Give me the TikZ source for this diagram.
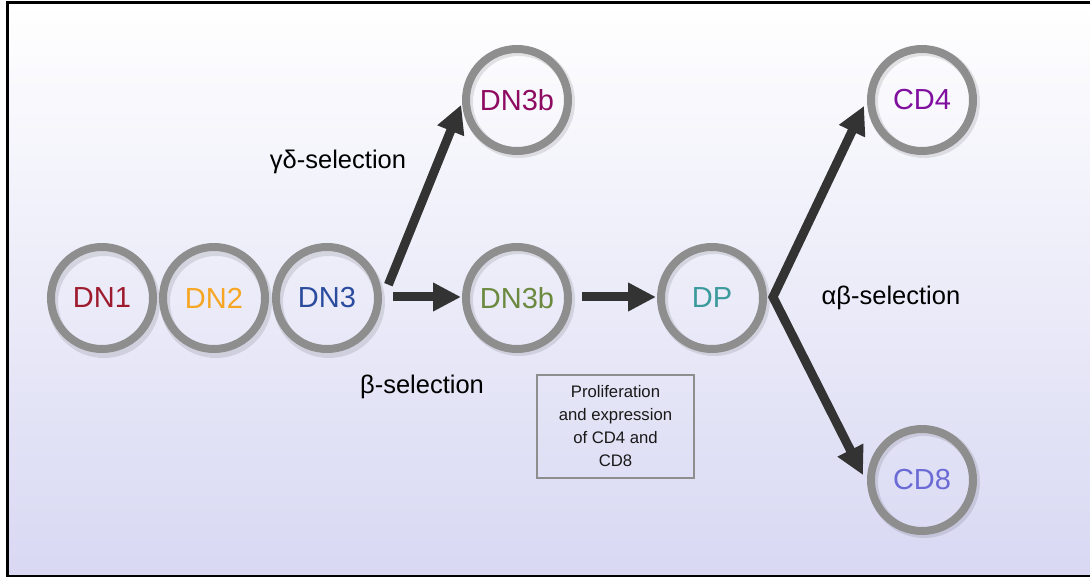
\documentclass[tikz,border=0pt]{standalone}
\usepackage{fontspec}
\setmainfont{Liberation Sans}
\usetikzlibrary{arrows.meta,calc}
\definecolor{ringgray}{HTML}{8E8E8E}
\definecolor{arrowgray}{HTML}{333333}
\definecolor{cdna}{HTML}{9E1B2E}
\definecolor{cdnb}{HTML}{F6A623}
\definecolor{cdnc}{HTML}{2B4C9E}
\definecolor{cdnbtop}{HTML}{8E0B62}
\definecolor{cdnbmid}{HTML}{6B8A3F}
\definecolor{cdp}{HTML}{3B9A9C}
\definecolor{ccdfour}{HTML}{800FA0}
\definecolor{ccdeight}{HTML}{6B6BD6}
\definecolor{bgbottom}{HTML}{D8D8F3}
\tikzset{
  cell/.style={circle, draw=ringgray, line width=8pt, minimum size=102pt, inner sep=0pt,
    font=\fontsize{29}{32}\selectfont},
  cellshadow/.style={circle, draw=black, draw opacity=0.10, line width=10pt, minimum size=102pt, inner sep=0pt},
  arr/.style={draw=arrowgray, line width=9pt, -{Triangle[length=28pt,width=27pt]}},
  twoarr/.style={draw=arrowgray, line width=9pt, line join=miter,
    {Triangle[length=28pt,width=27pt]}-{Triangle[length=28pt,width=27pt]}},
  lbl/.style={font=\fontsize{25.5}{28}\selectfont, text=black},
  infobox/.style={draw=ringgray, line width=1.5pt, minimum width=157pt, minimum height=103pt,
    align=center, inner sep=2pt, font=\fontsize{16.7}{23}\selectfont, text=black!90}
}
\begin{document}
\begin{tikzpicture}[x=1pt,y=-1pt]
\useasboundingbox (0,0) rectangle (1090,577);
\shade[top color=white, bottom color=bgbottom] (7,3) rectangle (1092,576);
\draw[line width=3pt, black] (1095,3) -- (7,3) -- (7,576) -- (1095,576);

% shadows
\foreach \p in {(104,302),(216,302),(329,302),(519,102),(519,300),(714,300),(924,102),(924,482)}
  \node[cellshadow] at \p {};

\node[cell, text=cdna] (dna) at (102,298) {DN1};
\node[cell, text=cdnb] (dnb) at (214,298) {DN2};
\node[cell, text=cdnc] (dnc) at (327,298) {DN3};
\node[cell, text=cdnbtop] (dnbt) at (517,100) {DN3b};
\node[cell, text=cdnbmid] (dnbm) at (517,298) {DN3b};
\node[cell, text=cdp] (dp) at (712,298) {DP};
\node[cell, text=ccdfour] (cdfour) at (922,100) {CD4};
\node[cell, text=ccdeight] (cdeight) at (922,480) {CD8};

\coordinate (fork) at ($(dp.east)+(6,-1)$);

\draw[arr] ($(dnc.14)+(8,0)$) -- ($(dnbt.185)+(-1,0)$);
\draw[arr] ($(dnc.east)+(11,-1)$) -- ($(dnbm.west)+(-1,-1)$);
\draw[arr] ($(dnbm.east)+(10,-1)$) -- ($(dp.west)+(-1,-1)$);
\draw[twoarr] ($(cdfour.183)+(-3,3)$) -- (fork) -- ($(cdeight.178)+(-4,-3)$);

\node[lbl] (gd) at (338,162) {γδ-selection};
\node[lbl] (b) at (422,387) {β-selection};
\node[lbl] (ab) at (891,298) {αβ-selection};
\node[infobox] (info) at (615.5,426.5) {Proliferation\\and expression\\of CD4 and\\CD8};
\end{tikzpicture}
\end{document}
